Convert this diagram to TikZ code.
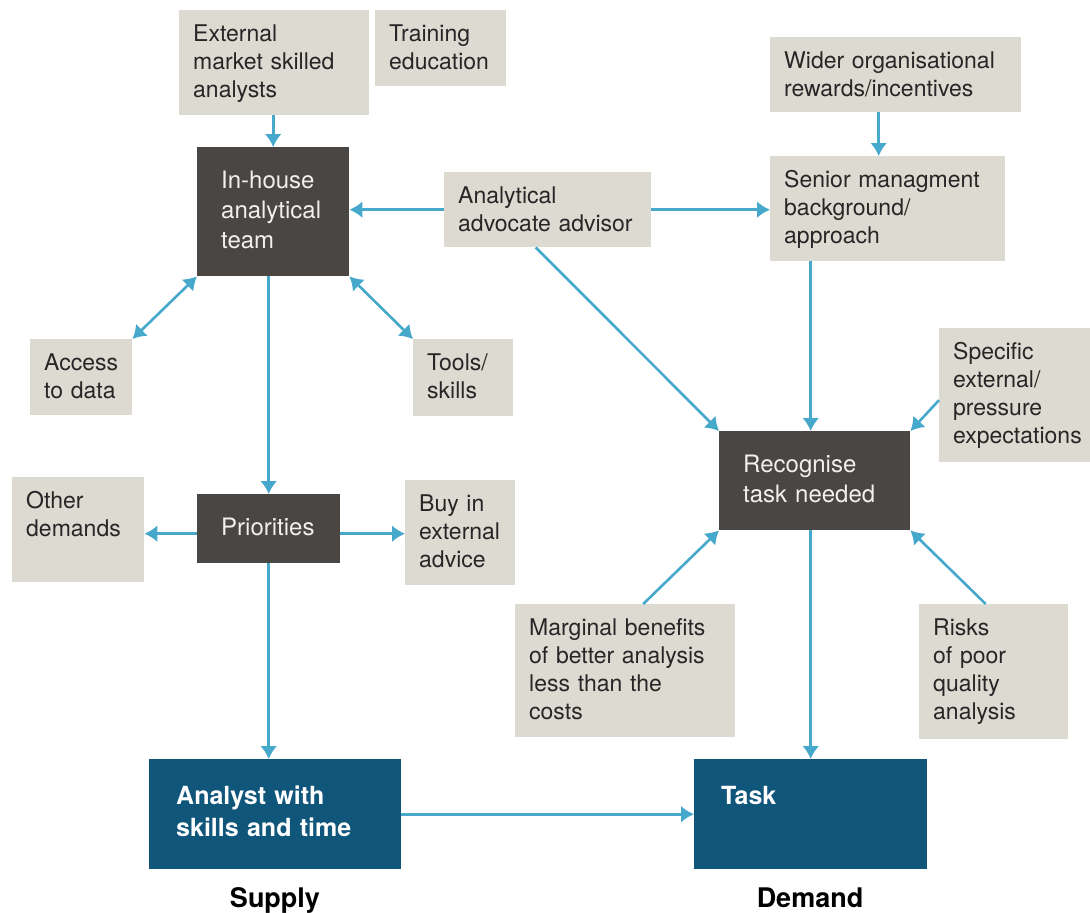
\documentclass[tikz,border=0pt]{standalone}
\usepackage{fontspec}
\setmainfont{TeX Gyre Heros}
\usepackage{tikz}
\usetikzlibrary{arrows.meta,positioning}
\definecolor{paleC}{HTML}{DDDAD2}
\definecolor{darkC}{HTML}{4A4643}
\definecolor{blueC}{HTML}{10557A}
\definecolor{arrowC}{HTML}{46A8CB}
\definecolor{inkC}{HTML}{262626}
\tikzset{>={Latex[length=13pt,width=17pt]}}
\tikzset{
  pale/.style={fill=paleC,text=inkC,anchor=north west,inner xsep=14pt,inner ysep=0pt,
    align=left,font=\fontsize{23}{28}\selectfont,text height=31pt},
  dark/.style={fill=darkC,text=white!94!black,anchor=north west,inner xsep=24pt,inner ysep=0pt,
    align=left,font=\fontsize{24}{30}\selectfont,text height=41pt},
  blue/.style={fill=blueC,text=white,anchor=north west,inner xsep=27pt,inner ysep=0pt,
    align=left,font=\fontsize{25}{32}\selectfont\bfseries,text height=45pt},
  side/.style={font=\fontsize{27}{32}\selectfont\bfseries,anchor=base,inner sep=0pt},
  link/.style={color=arrowC,line width=2.6pt}
}

\begin{document}
\begin{tikzpicture}[x=1pt,y=-1pt]
    \useasboundingbox (0,0) rectangle (1090,913);
    % supply side
    \node[pale,text width=162pt,text depth=74pt] (ext)   at (179,10) {External\\market~skilled\\analysts};
    \node[pale,text width=103pt,text depth=45pt] (train) at (375,10) {Training\\education};
    \node[dark,text width=104pt,text depth=88pt] (team)  at (197,147) {In-house\\analytical\\team};
    \node[pale,text width=74pt,text depth=45pt]  (access) at (30,339) {Access\\to~data};
    \node[pale,text width=72pt,text depth=46pt]  (tools) at (413,339) {Tools/\\skills};
    \node[dark,text width=95pt,text depth=28pt]  (prior) at (197,494) {Priorities};
    \node[pale,text width=104pt,text depth=74pt] (other) at (12,477) {Other\\demands};
    \node[pale,text width=82pt,text depth=74pt]  (buy)   at (405,480) {Buy~in\\external\\advice};
    \node[blue,text width=198pt,text depth=65pt] (analyst) at (149,759) {Analyst~with\\skills~and~time};
    % demand side
    \node[pale,text width=179pt,text depth=44pt] (adv)    at (444,172) {Analytical\\advocate~advisor};
    \node[pale,text width=223pt,text depth=44pt] (wider)  at (770,37) {Wider~organisational\\rewards/incentives};
    \node[pale,text width=207pt,text depth=74pt] (senior) at (770,156) {Senior~managment\\background/\\approach};
    \node[pale,text width=123pt,text depth=103pt] (specific) at (939,328) {Specific\\external/\\pressure\\expectations};
    \node[dark,text width=143pt,text depth=58pt] (recog)  at (719,431) {Recognise\\task~needed};
    \node[pale,text width=192pt,text depth=102pt] (marginal) at (515,604) {Marginal~benefits\\of~better~analysis\\less~than~the\\costs};
    \node[pale,text width=121pt,text depth=104pt] (risks) at (919,604) {Risks\\of~poor\\quality\\analysis};
    \node[blue,text width=179pt,text depth=65pt] (task)   at (694,759) {Task};
    \node[side] (supply) at (275,907) {Supply};
    \node[side] (demand) at (810,907) {Demand};

    \path[link,->]
        (ext.south -| team.north) edge (team.north)
        (adv.west) edge (adv.west -| team.east)
        (adv.east) edge (adv.east -| senior.west)
        ([xshift=-17pt]wider.south) edge ([xshift=-17pt]wider.south |- senior.north)
        (team.south -| prior.north) edge (prior.north)
        ([yshift=-5pt]prior.west) edge ([yshift=-5pt]prior.west -| other.east)
        ([yshift=-5pt]prior.east) edge ([yshift=-5pt]prior.east -| buy.west)
        (prior.south) edge (prior.south |- analyst.north)
        ([xshift=-12pt]adv.south) edge (recog.north west)
        ([xshift=-4pt]recog.north |- senior.south) edge ([xshift=-4pt]recog.north)
        ([yshift=-5pt]specific.west) edge (recog.north east)
        ([xshift=18pt]marginal.north) edge (recog.south west)
        ([xshift=-8pt]risks.north) edge (recog.south east)
        (recog.south -| task.north) edge (task.north)
        (analyst.east) edge (analyst.east -| task.west)
    ;
    \path[link,<->]
        (team.south west) edge (access.north east)
        (team.south east) edge (tools.north west)
    ;
\end{tikzpicture}
\end{document}
